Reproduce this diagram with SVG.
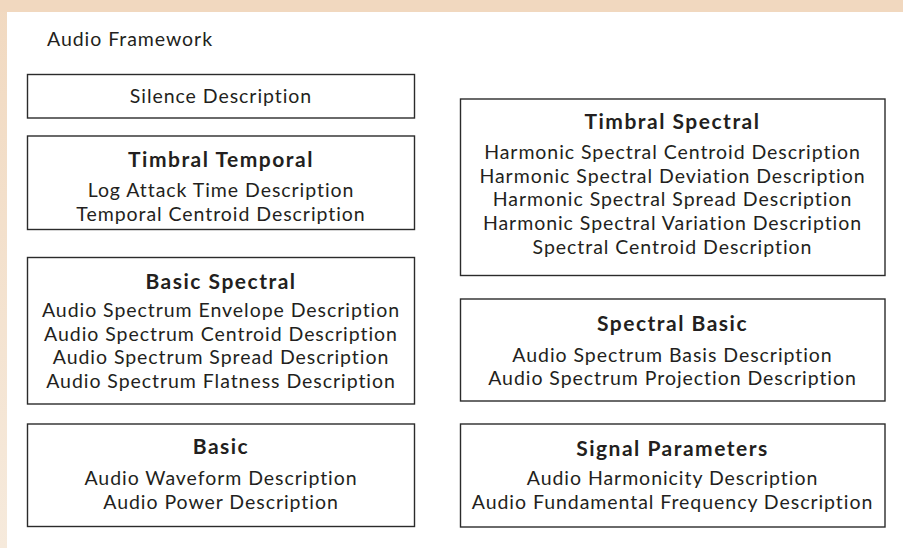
<svg xmlns="http://www.w3.org/2000/svg" width="903" height="548" viewBox="0 0 903 548">
<defs>
<linearGradient id="side" x1="0" y1="0" x2="0" y2="1">
<stop offset="0" stop-color="#f1d9c0"/>
<stop offset="1" stop-color="#f6eadc"/>
</linearGradient>
</defs>
<style>
.box{fill:#ffffff;stroke:#2b2b2b;stroke-width:1.4}
.t{font-family:Lato,"Open Sans","Liberation Sans",sans-serif;font-size:19.5px;letter-spacing:0.95px;fill:#231f20;text-anchor:middle}
.h{font-weight:bold;font-size:21px;letter-spacing:1.5px}
.lbl{font-family:Lato,"Open Sans","Liberation Sans",sans-serif;font-size:19.5px;letter-spacing:0.95px;fill:#231f20}
</style>
<rect x="0" y="0" width="903" height="548" fill="#ffffff"/>
<rect x="0" y="0" width="7" height="548" fill="url(#side)"/>
<rect x="0" y="0" width="903" height="12" fill="#f1d8bf"/>
<text class="lbl" x="47" y="46">Audio Framework</text>
<g id="silence">
<rect class="box" x="27.5" y="74.5" width="387" height="43.5"/>
<text class="t" x="221" y="103">Silence Description</text>
</g>
<g id="timbral-temporal">
<rect class="box" x="27.5" y="136" width="387" height="93.5"/>
<text class="t h" x="221" y="167">Timbral Temporal</text>
<text class="t" x="221" y="197">Log Attack Time Description<tspan x="221" dy="24">Temporal Centroid Description</tspan></text>
</g>
<g id="basic-spectral">
<rect class="box" x="27.5" y="257.5" width="387" height="146.5"/>
<text class="t h" x="221" y="288.5">Basic Spectral</text>
<text class="t" x="221" y="317">Audio Spectrum Envelope Description<tspan x="221" dy="23.6">Audio Spectrum Centroid Description</tspan><tspan x="221" dy="23.6">Audio Spectrum Spread Description</tspan><tspan x="221" dy="23.6">Audio Spectrum Flatness Description</tspan></text>
</g>
<g id="basic">
<rect class="box" x="27.5" y="424" width="387" height="102.5"/>
<text class="t h" x="221" y="454">Basic</text>
<text class="t" x="221" y="485">Audio Waveform Description<tspan x="221" dy="23.6">Audio Power Description</tspan></text>
</g>
<g id="timbral-spectral">
<rect class="box" x="460.5" y="99" width="424.5" height="176.5"/>
<text class="t h" x="672.5" y="129">Timbral Spectral</text>
<text class="t" x="672.5" y="158.5">Harmonic Spectral Centroid Description<tspan x="672.5" dy="24">Harmonic Spectral Deviation Description</tspan><tspan x="672.5" dy="23.6">Harmonic Spectral Spread Description</tspan><tspan x="672.5" dy="24">Harmonic Spectral Variation Description</tspan><tspan x="672.5" dy="24">Spectral Centroid Description</tspan></text>
</g>
<g id="spectral-basic">
<rect class="box" x="460.5" y="299" width="424.5" height="102"/>
<text class="t h" x="672.5" y="331">Spectral Basic</text>
<text class="t" x="672.5" y="361.5">Audio Spectrum Basis Description<tspan x="672.5" dy="23.6">Audio Spectrum Projection Description</tspan></text>
</g>
<g id="signal-parameters">
<rect class="box" x="460.5" y="424" width="424.5" height="103"/>
<text class="t h" x="672.5" y="456">Signal Parameters</text>
<text class="t" x="672.5" y="485">Audio Harmonicity Description<tspan x="672.5" dy="23.6">Audio Fundamental Frequency Description</tspan></text>
</g>
<g id="connectors"/>
</svg>
